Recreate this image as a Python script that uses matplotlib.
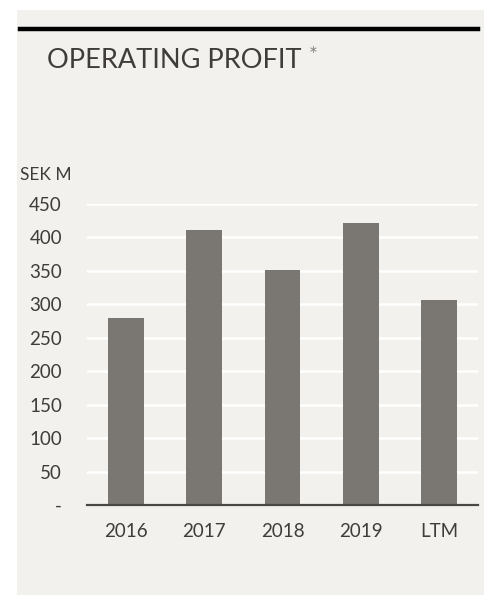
import matplotlib
matplotlib.use("Agg")
import matplotlib.pyplot as plt
from matplotlib.patches import Rectangle
from matplotlib.lines import Line2D

categories = ["2016", "2017", "2018", "2019", "LTM"]
values = [279, 411, 351, 421, 306]
yticks = [0, 50, 100, 150, 200, 250, 300, 350, 400, 450]
ytick_labels = ["-", "50", "100", "150", "200", "250", "300", "350", "400", "450"]

W, H = 484, 595
fig = plt.figure(figsize=(W / 100, H / 100), dpi=100)
fig.patch.set_facecolor("white")
bg = "#f2f1ed"
fig.add_artist(Rectangle((17 / W, 0), 1 - 17 / W, 1 - 10 / H, transform=fig.transFigure,
                         facecolor=bg, edgecolor="none", zorder=0))
fig.add_artist(Line2D([20 / W, 478 / W], [1 - 28.5 / H, 1 - 28.5 / H], transform=fig.transFigure,
                      color="black", lw=3.2, zorder=1))

font = "Lato"
txt = "#3f3c3a"
fig.text(47 / W, 1 - 60 / H, "OPERATING PROFIT", fontsize=19.5, family=font,
         color=txt, va="center", ha="left")
fig.text(309 / W, 1 - 56 / H, "*", fontsize=15, family=font, color="#8a8683", va="center", ha="left")
fig.text(20 / W, 1 - 175 / H, "SEK M", fontsize=12.5, family=font, color=txt,
         va="center", ha="left")

ax = fig.add_axes([87 / W, 1 - 505 / H, (478 - 87) / W, (505 - 204) / H])
ax.set_facecolor("none")
x = list(range(len(categories)))
ax.bar(x, values, width=0.46, color="#7a7672", zorder=3)
ax.set_xlim(-0.5, 4.5)
ax.set_ylim(0, 450)
ax.set_yticks(yticks)
ax.set_yticklabels(ytick_labels)
ax.set_xticks(x)
ax.set_xticklabels(categories)
ax.grid(axis="y", color="white", lw=1.8, zorder=1)
ax.set_axisbelow(True)
for s in ["top", "right", "left"]:
    ax.spines[s].set_visible(False)
ax.spines["bottom"].set_color("#4a4744")
ax.spines["bottom"].set_linewidth(1.6)
ax.spines["bottom"].set_zorder(4)
ax.tick_params(axis="both", length=0, labelsize=13.5, labelcolor=txt)
ax.tick_params(axis="y", pad=18)
ax.tick_params(axis="x", pad=13)
for lab in ax.get_xticklabels() + ax.get_yticklabels():
    lab.set_family(font)

fig.savefig("out.png", dpi=100, facecolor="white")
